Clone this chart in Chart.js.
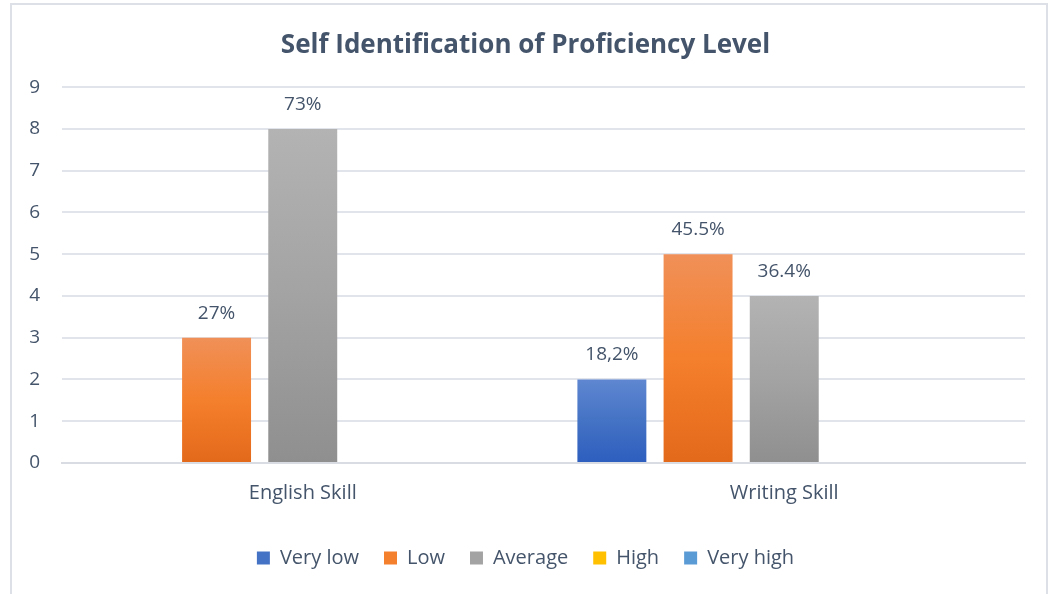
<!DOCTYPE html>
<html>
<head>
<meta charset="utf-8">
<script src="https://cdn.jsdelivr.net/npm/chart.js@4"></script>
<style>
    html, body { margin: 0; padding: 0; background: #ffffff; }
    #frame {
        position: absolute; left: 10px; top: 3px; width: 1038px; height: 620px;
        border: 2px solid #dde1e7; box-sizing: border-box;
    }
    #wrap { position: absolute; left: 0; top: 0; width: 1053px; height: 594px; }
</style>
</head>
<body>
<div id="frame"></div>
<div id="wrap"><canvas id="chart"></canvas></div>
<script>
const categories = ["English Skill", "Writing Skill"];
const seriesNames = ["Very low", "Low", "Average", "High", "Very high"];
const veryLow = [0, 2];
const low = [3, 5];
const average = [8, 4];
const high = [0, 0];
const veryHigh = [0, 0];
const veryLowLabels = ["", "18,2%"];
const lowLabels = ["27%", "45.5%"];
const averageLabels = ["73%", "36.4%"];
const highLabels = ["", ""];
const veryHighLabels = ["", ""];
const yTicks = [0, 1, 2, 3, 4, 5, 6, 7, 8, 9];

const textColor = "#44546a";
const fontFamily = "'Open Sans', 'Noto Sans', sans-serif";

// top / middle / bottom colours of the bar gradients; mid is also the legend colour
const palette = [
    { top: "#5f87d1", mid: "#4472c4", bottom: "#2d5ebf" },
    { top: "#f09058", mid: "#f47f2c", bottom: "#e3691a" },
    { top: "#b3b3b3", mid: "#a3a3a3", bottom: "#8f8f8f" },
    { top: "#ffcd2a", mid: "#ffc000", bottom: "#e9ad00" },
    { top: "#6aa6e0", mid: "#5b9bd5", bottom: "#4583c7" },
];

function gradientFor(i) {
    return (ctx) => {
        const chart = ctx.chart;
        const y = chart.scales && chart.scales.y;
        if (!chart.chartArea || !y || ctx.type !== "data" || !ctx.parsed) return palette[i].mid;
        const top = y.getPixelForValue(ctx.parsed.y);
        const bottom = y.getPixelForValue(0);
        if (!isFinite(top) || !isFinite(bottom) || bottom - top < 1) return palette[i].mid;
        const g = chart.ctx.createLinearGradient(0, top, 0, bottom);
        g.addColorStop(0, palette[i].top);
        g.addColorStop(0.5, palette[i].mid);
        g.addColorStop(1, palette[i].bottom);
        return g;
    };
}

const allValues = [veryLow, low, average, high, veryHigh];
const allLabels = [veryLowLabels, lowLabels, averageLabels, highLabels, veryHighLabels];

const barLabels = {
    id: "barLabels",
    afterDatasetsDraw(chart) {
        const ctx = chart.ctx;
        ctx.save();
        ctx.font = "19px " + fontFamily;
        ctx.fillStyle = textColor;
        ctx.textAlign = "center";
        ctx.textBaseline = "bottom";
        chart.data.datasets.forEach((ds, di) => {
            const meta = chart.getDatasetMeta(di);
            meta.data.forEach((bar, i) => {
                const txt = allLabels[di][i];
                if (txt) ctx.fillText(txt, bar.x, bar.y - 15);
            });
        });
        ctx.restore();
    },
};

new Chart(document.getElementById("chart").getContext("2d"), {
    type: "bar",
    data: {
        labels: categories,
        datasets: seriesNames.map((name, i) => ({
            label: name,
            data: allValues[i],
            backgroundColor: gradientFor(i),
            borderWidth: 0,
            barPercentage: 0.8,
            categoryPercentage: 0.895,
        })),
    },
    options: {
        responsive: true,
        maintainAspectRatio: false,
        animation: false,
        layout: { padding: { left: 26, right: 28, top: 30, bottom: 16 } },
        plugins: {
            title: {
                display: true,
                text: "Self Identification of Proficiency Level",
                color: textColor,
                font: { family: fontFamily, size: 26, weight: "bold" },
                padding: { top: 0, bottom: 26 },
            },
            legend: {
                position: "bottom",
                labels: {
                    color: textColor,
                    font: { family: fontFamily, size: 20 },
                    boxWidth: 13,
                    boxHeight: 13,
                    padding: 25,
                    generateLabels: (chart) =>
                        seriesNames.map((name, i) => ({
                            text: name,
                            fillStyle: palette[i].mid,
                            strokeStyle: palette[i].mid,
                            lineWidth: 0,
                            fontColor: textColor,
                            datasetIndex: i,
                        })),
                },
            },
            tooltip: { enabled: false },
        },
        scales: {
            x: {
                grid: { display: false },
                border: { color: "#d9dce2", width: 2 },
                ticks: {
                    color: textColor,
                    font: { family: fontFamily, size: 20 },
                    padding: 10,
                },
                afterFit: (axis) => {
                    axis.height += 8;
                },
            },
            y: {
                min: 0,
                max: 9,
                afterBuildTicks: (axis) => {
                    axis.ticks = yTicks.map((v) => ({ value: v }));
                },
                afterFit: (axis) => {
                    axis.width = 36;
                },
                grid: { color: "#e1e4ea", lineWidth: 2, drawTicks: false },
                border: { display: false },
                ticks: {
                    color: textColor,
                    font: { family: fontFamily, size: 19 },
                    padding: 22,
                },
            },
        },
    },
    plugins: [barLabels],
});
</script>
</body>
</html>
